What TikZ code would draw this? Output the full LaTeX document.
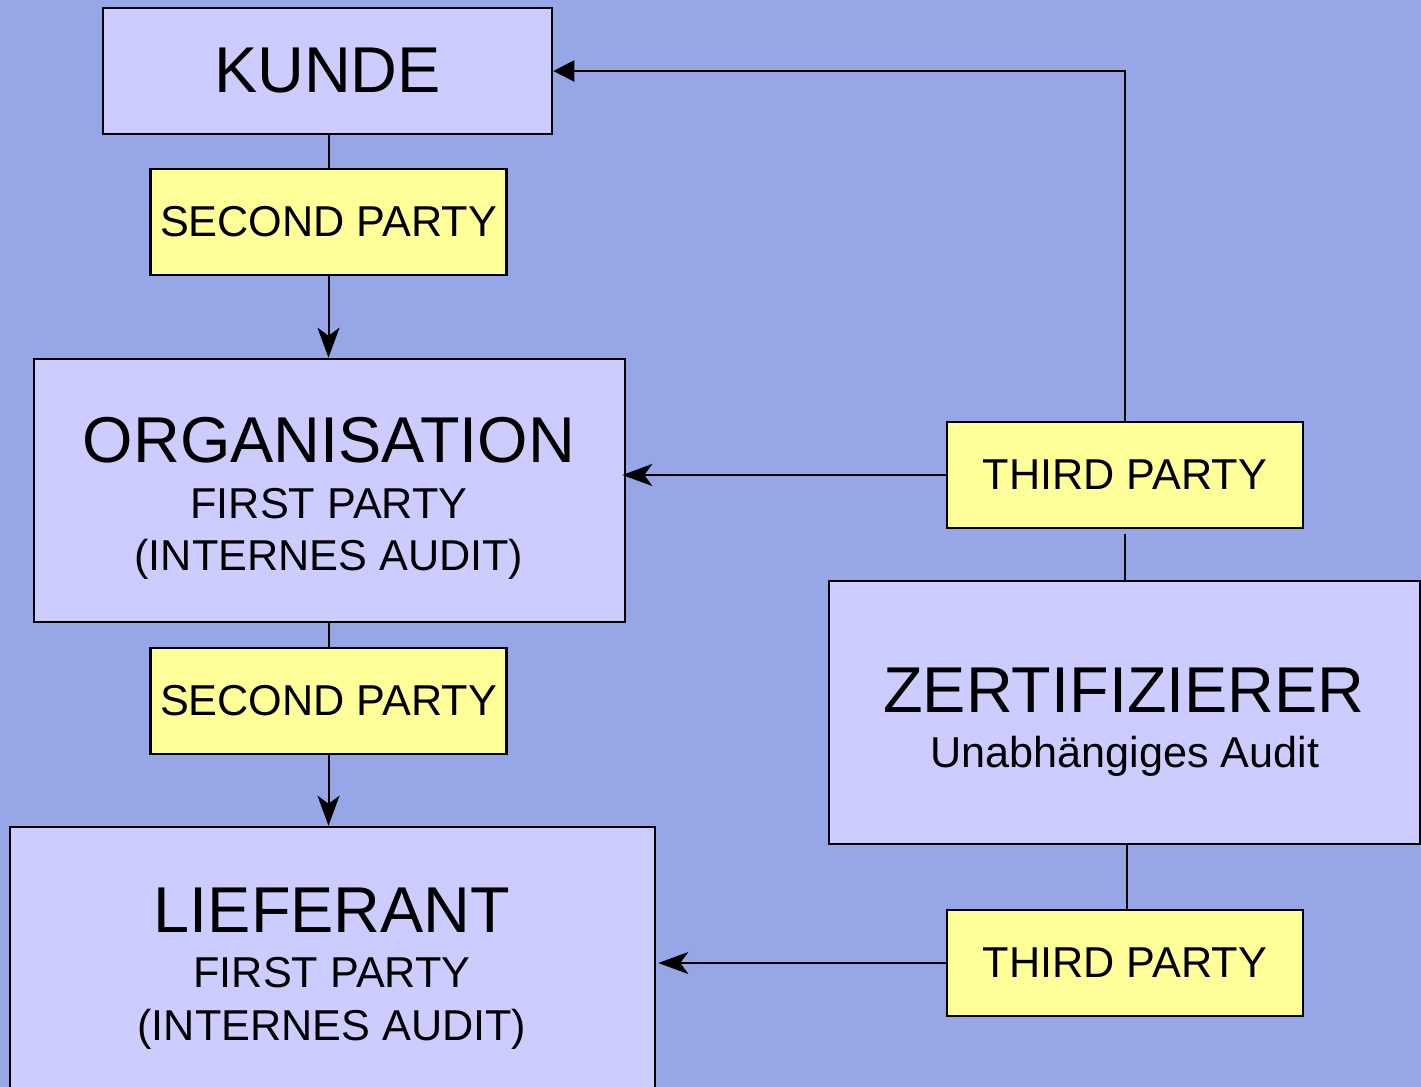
\documentclass[tikz,border=0pt]{standalone}
\usepackage{fontspec}
\setmainfont{Liberation Sans}
\usetikzlibrary{arrows.meta}
\definecolor{bgc}{RGB}{150,166,230}
\definecolor{boxc}{RGB}{204,204,255}
\definecolor{labc}{RGB}{255,255,153}
\tikzset{
  pbox/.style={draw=black, line width=1.3pt, fill=boxc, inner sep=0pt},
  lbox/.style={draw=black, line width=1.3pt, fill=labc, inner sep=0pt,
    minimum width=178pt, minimum height=53pt, font=\fontsize{21.6}{25}\selectfont},
  ttl/.style={anchor=base, inner sep=0pt, font=\fontsize{32.4}{38}\selectfont},
  sub/.style={anchor=base, inner sep=0pt, font=\fontsize{21.6}{25}\selectfont},
  conn/.style={line width=1pt},
  arr/.style={conn, -{Stealth[length=15pt,width=11pt,inset=4pt]}},
  tarr/.style={conn, -{Triangle[length=10.5pt,width=10.5pt]}}
}
\begin{document}
\begin{tikzpicture}[x=0.5pt,y=-0.5pt]
\useasboundingbox (0,0) rectangle (1421,1087);
\clip (0,0) rectangle (1421,1087);
\fill[bgc] (0,0) rectangle (1421,1087);
% boxes
\node[pbox, minimum width=224.5pt, minimum height=63pt, font=\fontsize{32.4}{38}\selectfont] (kunde) at (327.5,71) {KUNDE};
\node[lbox] (sp1) at (328.5,222) {SECOND PARTY};
\node[pbox, minimum width=295.5pt, minimum height=131.5pt] (org) at (329.5,490.5) {};
\node[lbox] (sp2) at (328.5,701) {SECOND PARTY};
\node[pbox, minimum width=322.5pt, minimum height=146.5pt] (lief) at (332.5,973.5) {};
\node[lbox] (tp1) at (1125,475) {THIRD PARTY};
\node[pbox, minimum width=295.5pt, minimum height=131.5pt] (zert) at (1124.5,712.5) {};
\node[lbox] (tp2) at (1125,963) {THIRD PARTY};
% texts
\node[ttl] (orgt) at (329,462.7) {ORGANISATION};
\node[sub] (orgs1) at (329,518) {FIRST PARTY};
\node[sub] (orgs2) at (329,570) {(INTERNES AUDIT)};
\node[ttl] (lieft) at (332,932.7) {LIEFERANT};
\node[sub] (liefs1) at (332,987) {FIRST PARTY};
\node[sub] (liefs2) at (332,1040) {(INTERNES AUDIT)};
\node[ttl] (zertt) at (1124,712.7) {ZERTIFIZIERER};
\node[sub] (zerts) at (1125,767) {Unabhängiges Audit};
% connectors
\draw[conn] (sp1.north) -- (sp1.north |- kunde.south);
\draw[arr] (sp1.south) -- (sp1.south |- org.north);
\draw[conn] (sp2.north) -- (sp2.north |- org.south);
\draw[arr] (sp2.south) -- (sp2.south |- lief.north);
\draw[arr, shorten >=-2pt] (tp1.west) -- (tp1.west -| org.east);
\draw[tarr] (tp1.north) -- (tp1.north |- kunde.east) -- (kunde.east);
\draw[conn] ([yshift=-2.5pt]tp1.south) -- (tp1.south |- zert.north);
\draw[conn] ([xshift=1pt]zert.south) -- ([xshift=1pt]zert.south |- tp2.north);
\draw[arr, shorten >=1pt] (tp2.west) -- (tp2.west -| lief.east);
\end{tikzpicture}
\end{document}
